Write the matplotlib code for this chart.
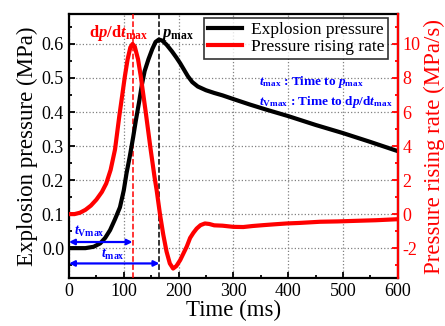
import numpy as np
import matplotlib
matplotlib.use("Agg")
import matplotlib.pyplot as plt
from matplotlib.ticker import MultipleLocator, FormatStrFormatter

plt.rcParams["font.family"] = "Liberation Serif"
plt.rcParams["mathtext.fontset"] = "custom"
plt.rcParams["mathtext.rm"] = "Liberation Serif"
plt.rcParams["mathtext.it"] = "Liberation Serif:italic"
plt.rcParams["mathtext.bf"] = "Liberation Serif:bold"
plt.rcParams["mathtext.bfit"] = "Liberation Serif:bold:italic"
plt.rcParams["axes.unicode_minus"] = False

# explosion pressure (MPa) vs time (ms)
t_p = [0, 30, 45, 57, 66, 75, 84, 93, 100, 105, 111, 117, 122, 128, 133, 138,
       145, 152, 158, 164, 170, 178, 188, 196, 203, 210, 217, 225, 235, 250,
       265, 280, 300, 330, 360, 400, 450, 500, 550, 600]
pressure = [0.0, 0.0, 0.004, 0.014, 0.03, 0.053, 0.085, 0.12, 0.17, 0.22, 0.27,
            0.325, 0.375, 0.43, 0.48, 0.52, 0.555, 0.585, 0.606, 0.613, 0.61,
            0.598, 0.578, 0.56, 0.543, 0.524, 0.505, 0.488, 0.475, 0.464, 0.456,
            0.449, 0.438, 0.422, 0.407, 0.388, 0.362, 0.338, 0.312, 0.285]

# pressure rising rate (MPa/s) vs time (ms)
t_r = [0, 10, 20, 30, 40, 50, 60, 68, 76, 84, 92, 102, 107, 112, 116, 120, 126,
       131, 140, 149, 156, 160, 166, 172, 178, 184, 190, 196, 203, 209, 215, 221,
       227, 233, 240, 248, 256, 265, 280, 300, 318, 335, 354, 375, 397, 420, 458,
       490, 519, 560, 600]
rate = [0.0, 0.0, 0.08, 0.25, 0.5, 0.85, 1.3, 1.8, 2.6, 3.8, 5.8, 8.1, 9.1, 9.8,
        10.0, 9.85, 9.1, 8.1, 6.0, 3.8, 2.2, 1.4, 0.0, -1.2, -2.2, -2.9, -3.2,
        -3.05, -2.7, -2.3, -1.9, -1.4, -1.1, -0.85, -0.65, -0.55, -0.58, -0.66,
        -0.68, -0.75, -0.76, -0.7, -0.65, -0.6, -0.55, -0.52, -0.45, -0.43, -0.4,
        -0.36, -0.3]

t_vmax = 116
t_max = 165

fig = plt.figure(figsize=(4.45, 3.26), dpi=100)
ax = fig.add_axes([0.155, 0.147, 0.739, 0.81])
ax2 = ax.twinx()

ax.plot(t_p, pressure, color="black", lw=3, label="Explosion pressure", zorder=4)
ax2.plot(t_r, rate, color="red", lw=3, zorder=4)
ax.plot([], [], color="red", lw=3, label="Pressure rising rate")

ax.set_xlim(0, 600)
ax.set_ylim(-0.088, 0.688)
ax2.set_ylim(-3.76, 11.76)

ax.axvline(t_vmax, color="red", ls="--", lw=1.1, zorder=3)
ax.axvline(t_max, color="black", ls="--", lw=1.1, zorder=3)

ax.grid(True, color="gray", ls=":", lw=0.9)
ax.set_axisbelow(True)

ax.xaxis.set_major_locator(MultipleLocator(100))
ax.xaxis.set_minor_locator(MultipleLocator(50))
ax.yaxis.set_major_locator(MultipleLocator(0.1))
ax.yaxis.set_minor_locator(MultipleLocator(0.05))
ax.yaxis.set_major_formatter(FormatStrFormatter("%.1f"))
ax2.yaxis.set_major_locator(MultipleLocator(2))
ax2.yaxis.set_minor_locator(MultipleLocator(1))

ax.tick_params(which="both", direction="in", labelsize=13, width=1.3)
ax.tick_params(which="major", length=4)
ax.tick_params(which="minor", length=2)
ax2.tick_params(which="both", direction="in", labelsize=13, width=1.3,
                colors="red")
ax2.tick_params(which="major", length=4)
ax2.tick_params(which="minor", length=2)

for s in ax.spines.values():
    s.set_linewidth(1.6)
for s in ax2.spines.values():
    s.set_linewidth(1.6)
ax2.spines["right"].set_color("red")
ax2.spines["left"].set_visible(False)
ax2.spines["top"].set_visible(False)
ax2.spines["bottom"].set_visible(False)

ax.set_xlabel("Time (ms)", fontsize=16.5, labelpad=0)
ax.set_ylabel("Explosion pressure (MPa)", fontsize=16.5, labelpad=3)
ax2.set_ylabel("Pressure rising rate (MPa/s)", fontsize=16.5, color="red",
               labelpad=2)

leg = ax.legend(loc="upper right", bbox_to_anchor=(0.97, 0.985), fontsize=12.5,
                frameon=True, fancybox=False, edgecolor="black",
                borderaxespad=0, borderpad=0.2, labelspacing=0.1,
                handlelength=2.0, handletextpad=0.5)
leg.get_frame().set_linewidth(1.2)
leg.set_zorder(10)

ax.text(90, 0.62, r"$\mathbf{d}\mathbfit{p}\mathbf{/d}\mathbfit{t}_{\mathbf{max}}$",
        color="red", fontsize=12, ha="center", va="baseline", zorder=6)
ax.text(167, 0.62, r"$\mathbfit{p}_{\mathbf{max}}$", color="black",
        fontsize=12, ha="left", va="baseline", zorder=6)

ax.text(347, 0.479, r"$\mathbfit{t}_{\mathbf{max}}$ : Time to $\mathbfit{p}_{\mathbf{max}}$",
        color="blue", fontsize=9.5, fontweight="bold", ha="left",
        va="baseline", zorder=6)
ax.text(347, 0.42,
        r"$\mathbfit{t}_{\mathbf{Vmax}}$ : Time to $\mathbf{d}\mathbfit{p}\mathbf{/d}\mathbfit{t}_{\mathbf{max}}$",
        color="blue", fontsize=9.5, fontweight="bold", ha="left",
        va="baseline", zorder=6)

arrow = dict(arrowstyle="<|-|>", color="blue", lw=1.6, mutation_scale=8,
             shrinkA=0, shrinkB=0)
ax.annotate("", xy=(0, 0.018), xytext=(t_vmax, 0.018), arrowprops=arrow,
            zorder=6)
ax.annotate("", xy=(0, -0.045), xytext=(t_max, -0.045), arrowprops=arrow,
            zorder=6)
ax.text(38, 0.05, r"$\mathbfit{t}_{\mathbf{Vmax}}$", color="blue", fontsize=10,
        ha="center", va="center", zorder=6)
ax.text(81, -0.02, r"$\mathbfit{t}_{\mathbf{max}}$", color="blue", fontsize=10,
        ha="center", va="center", zorder=6)

fig.savefig("out.png", dpi=100)
